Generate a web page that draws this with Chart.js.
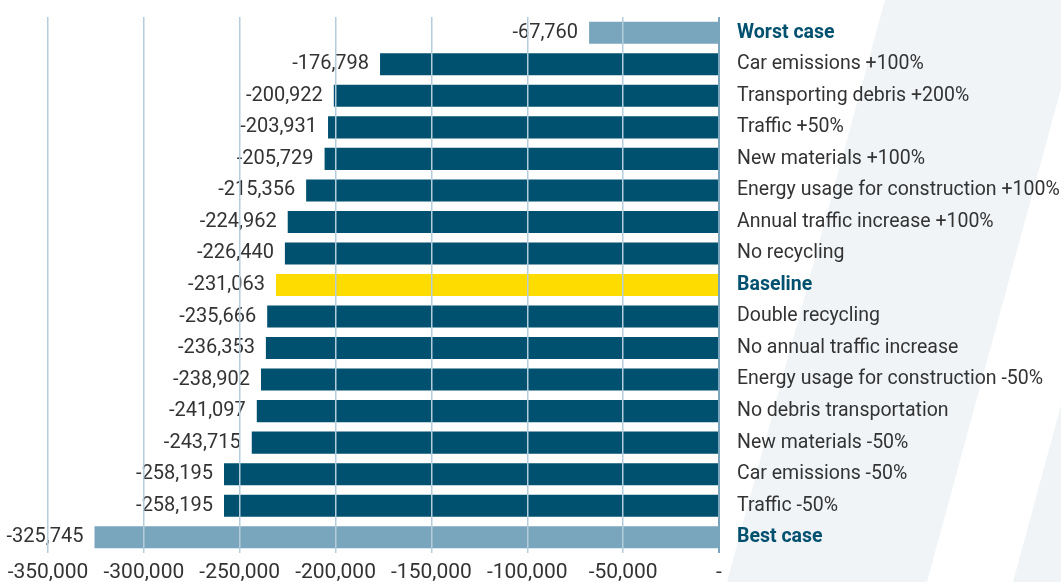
<!DOCTYPE html>
<html>
<head>
<meta charset="utf-8">
<script src="https://cdn.jsdelivr.net/npm/chart.js@4"></script>
<style>
  html, body { margin: 0; padding: 0; background: #fff; }
  #wrap { width: 1061px; height: 582px; }
</style>
</head>
<body>
<div id="wrap"><canvas id="grafica"></canvas></div>
<script>
// Scenarios, top to bottom
const scenarios = [
  "Worst case", "Car emissions +100%", "Transporting debris +200%", "Traffic +50%",
  "New materials +100%", "Energy usage for construction +100%", "Annual traffic increase +100%",
  "No recycling", "Baseline", "Double recycling", "No annual traffic increase",
  "Energy usage for construction -50%", "No debris transportation", "New materials -50%",
  "Car emissions -50%", "Traffic -50%", "Best case"
];
const values = [
  -67760, -176798, -200922, -203931, -205729, -215356, -224962, -226440, -231063,
  -235666, -236353, -238902, -241097, -243715, -258195, -258195, -325745
];
const highlighted = ["Worst case", "Baseline", "Best case"];
const xTicks = [-350000, -300000, -250000, -200000, -150000, -100000, -50000, 0];

const colores = scenarios.map(function (s) {
  if (s === "Baseline") return "#ffdc00";
  if (s === "Worst case" || s === "Best case") return "#7aa6bd";
  return "#00506f";
});

const FONT = "Roboto";

// diagonal background bands
const fondo = {
  id: "fondo",
  beforeDraw(chart) {
    const c = chart.ctx;
    c.save();
    c.fillStyle = "#f0f4f7";
    c.beginPath();
    c.moveTo(885, 0); c.lineTo(1085, 0); c.lineTo(927, 582); c.lineTo(727, 582);
    c.closePath(); c.fill();
    c.beginPath();
    c.moveTo(1171, 0); c.lineTo(1300, 0); c.lineTo(1300, 582); c.lineTo(1013, 582);
    c.closePath(); c.fill();
    c.restore();
  }
};

// value labels at the bar ends
const etiquetas = {
  id: "etiquetas",
  afterDatasetsDraw(chart) {
    const c = chart.ctx;
    const meta = chart.getDatasetMeta(0);
    c.save();
    c.font = "20px " + FONT;
    c.fillStyle = "#333";
    c.textAlign = "right";
    c.textBaseline = "middle";
    meta.data.forEach(function (bar, i) {
      c.fillText(values[i].toLocaleString("en-US"), bar.x - 11, bar.y);
    });
    c.restore();
  }
};

const ctx = document.getElementById("grafica").getContext("2d");
new Chart(ctx, {
  type: "bar",
  data: {
    labels: scenarios,
    datasets: [{
      data: values,
      backgroundColor: colores,
      borderWidth: 0,
      categoryPercentage: 1,
      barPercentage: 0.7
    }]
  },
  options: {
    indexAxis: "y",
    responsive: true,
    maintainAspectRatio: false,
    animation: false,
    layout: { padding: { left: 48, top: 17, right: 0, bottom: 0 } },
    plugins: { legend: { display: false }, tooltip: { enabled: false } },
    scales: {
      x: {
        min: -350000,
        max: 0,
        afterBuildTicks(scale) { scale.ticks = xTicks.map(v => ({ value: v })); },
        afterFit(scale) {
          scale.height = 29;
          scale.paddingLeft = 0;
          scale.paddingRight = 0;
        },
        border: { display: false },
        grid: {
          z: 1,
          drawTicks: false,
          color: c => (c.tick && c.tick.value === 0) ? "#7ba5bd" : "#b3cddc",
          lineWidth: c => (c.tick && c.tick.value === 0) ? 2 : 1.5
        },
        ticks: {
          autoSkip: false,
          maxRotation: 0,
          padding: 7,
          color: "#333",
          font: { family: FONT, size: 21 },
          callback: v => v === 0 ? "-" : v.toLocaleString("en-US")
        }
      },
      y: {
        position: "right",
        afterFit(scale) {
          scale.width = 342;
          scale.paddingTop = 0;
          scale.paddingBottom = 0;
        },
        border: { display: false },
        grid: { display: false },
        ticks: {
          padding: 10,
          autoSkip: false,
          color: c => highlighted.includes(scenarios[c.index]) ? "#00506f" : "#333",
          font: c => ({
            family: FONT,
            size: 19.5,
            weight: highlighted.includes(scenarios[c.index]) ? "bold" : "normal"
          })
        }
      }
    }
  },
  plugins: [fondo, etiquetas]
});
</script>
</body>
</html>
